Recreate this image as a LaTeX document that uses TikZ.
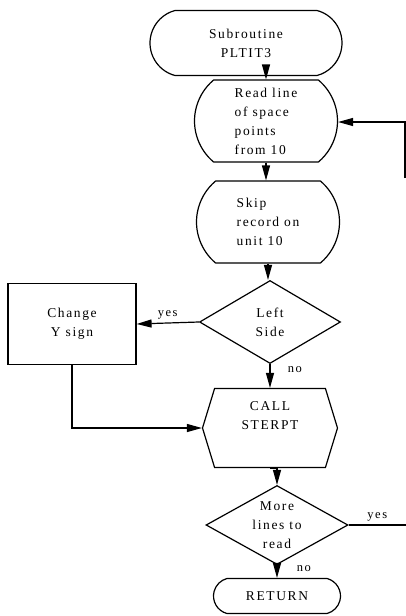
\documentclass[tikz,border=0pt]{standalone}
\usepackage{fontspec}
\setmainfont{Liberation Serif}[LetterSpace=12]
\usetikzlibrary{arrows.meta,shapes.misc,shapes.geometric,shapes.symbols,positioning}

\begin{document}
\begin{tikzpicture}[x=1pt,y=-1pt,
  font=\fontsize{13.5}{19}\selectfont,>={Triangle[length=15pt,width=8pt]},
  term/.style={draw,line width=1.2pt,rounded rectangle,rounded rectangle arc length=150,align=center,inner sep=0pt},
  rdbox/.style={draw,line width=1.2pt,rounded rectangle,rounded rectangle arc length=100,align=left,inner sep=0pt,minimum width=143pt,minimum height=82pt},
  proc/.style={draw,line width=1.2pt,rectangle,align=center,minimum width=128pt,minimum height=81pt},
  dec/.style={draw,line width=1.2pt,diamond,align=center,inner sep=0pt},
  callbox/.style={draw,line width=1.2pt,signal,signal to=west and east,signal pointer angle=146,align=center,inner sep=0pt,minimum width=135pt,minimum height=79pt},
  ar/.style={->,line width=1.2pt},
  ln/.style={line width=1.2pt},
  lbl/.style={font=\fontsize{12.5}{14}\selectfont}
]
\useasboundingbox (0,0) rectangle (406,616);

% main column
\node[term,minimum width=192pt,minimum height=65pt] (start) at (246,43) {Subroutine\\PLTIT3};
\node[rdbox] (read) at (266,121) {Read line\\of space\\points\\from 10};
\node[rdbox] (skip) at (268,222) {Skip\\record on\\unit 10};
\node[dec,minimum width=141pt,minimum height=83pt] (side) at (270,322) {Left\\Side};
\node[proc] (chg) at (72,324) {Change\\Y sign};
\node[callbox] (call) at (270,428) {CALL\\STERPT\\[6pt]};
\node[dec,minimum width=142pt,minimum height=79pt,
      label={[align=center]center:More\\lines to\\read}] (more) at (277,525) {};
\node[term,minimum width=127pt,minimum height=35pt] (ret) at (277,596) {RETURN};

% loop ends
\coordinate (loopTop) at (405,122);
\coordinate (loopEnd) at (405,178);
\coordinate (exitR) at (406,525);

% arrows
\draw[ar] (start.south -| read) -- (read.north);
\draw[ar] (read.south) -- (read.south |- skip.north);
\draw[ar] (skip.south) -- (skip.south |- side.north);
\draw[ar] (side.west) -- (chg.east) node[midway,above,lbl]{yes};
\draw[ar] (side.south) -- (side.south |- call.north) node[pos=0.25,right=14pt,lbl]{no};
\draw[ar] (chg.south) |- (call.west);
\draw[ar] (call.south) -- (call.south -| more) -- (more.north);
\draw[ar] (more.south) -- (ret.north) node[pos=0.3,right=16pt,lbl]{no};
\draw[ln] (more.east) -- (exitR) node[midway,above,lbl]{yes};
\draw[ar] (loopEnd) -- (loopTop) -- (read.east |- loopTop);
\end{tikzpicture}
\end{document}
